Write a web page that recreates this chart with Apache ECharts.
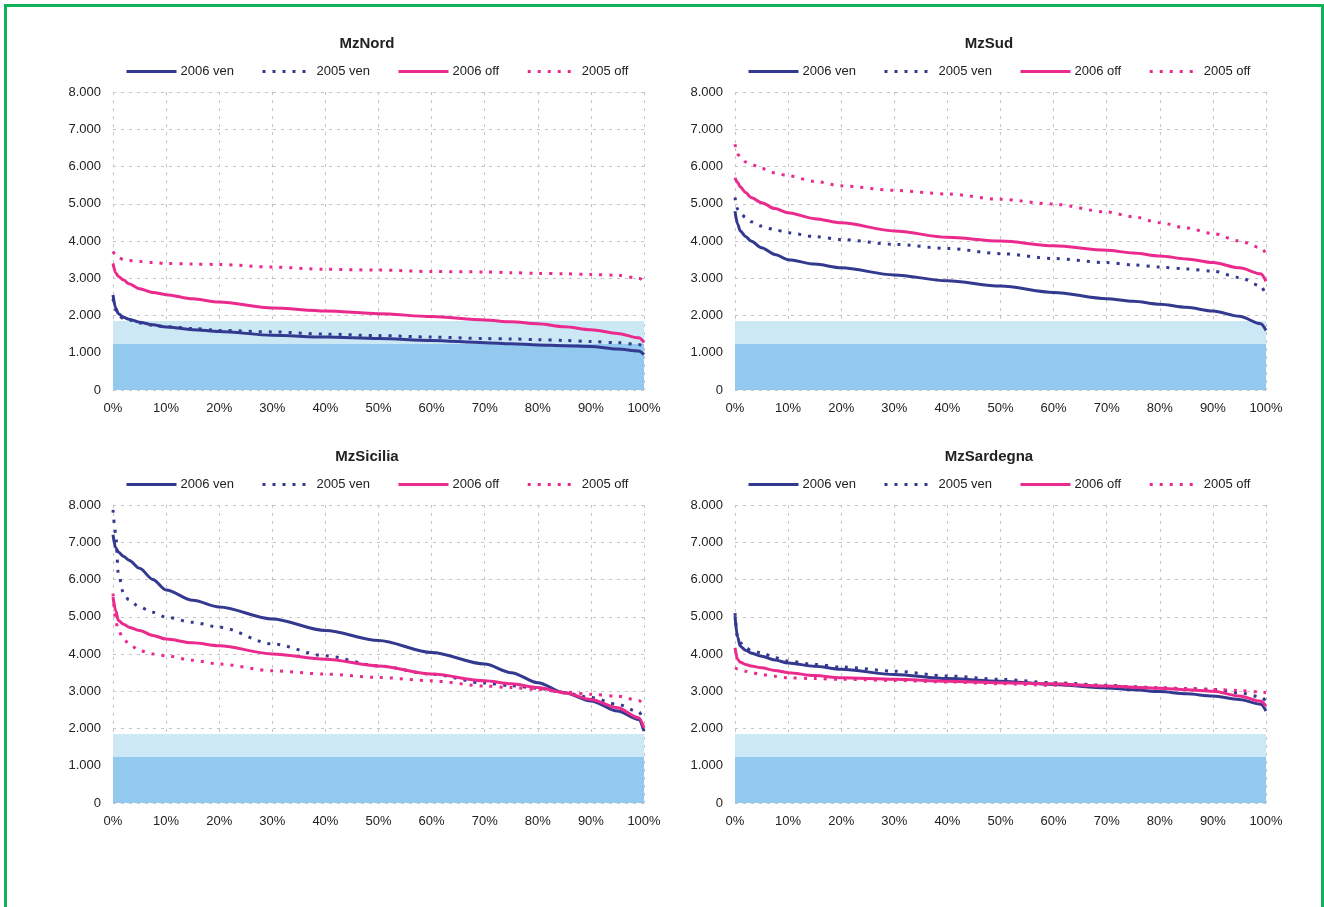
<!DOCTYPE html>
<html>
<head>
<meta charset="utf-8">
<script src="https://cdn.jsdelivr.net/npm/echarts@6/dist/echarts.min.js"></script>
<style>
  body { margin: 0; background: #fff; }
  #frame { position: absolute; left: 4px; top: 4px; width: 1314px; height: 960px; border: 3px solid #0fb159; }
  #main { position: absolute; left: 0; top: 0; width: 1324px; height: 907px; }
</style>
</head>
<body>
<div id="frame"></div>
<div id="main"></div>
<script>
// percent of hours (x axis)
const pct = [0, 0.5, 1, 2, 3, 5, 7.5, 10, 15, 20, 30, 40, 50, 60, 70, 75, 80, 85, 90, 95, 99, 100]
const seriesNames = ['2006 ven', '2005 ven', '2006 off', '2005 off']
const panelNames = ['MzNord', 'MzSud', 'MzSicilia', 'MzSardegna']

// values (thousands)
const nordVen06 = [2.55, 2.2, 2.05, 1.95, 1.9, 1.82, 1.75, 1.69, 1.62, 1.57, 1.47, 1.42, 1.38, 1.33, 1.27, 1.24, 1.21, 1.19, 1.17, 1.1, 1.05, 0.95]
const nordVen05 = [2.45, 2.15, 2.0, 1.92, 1.88, 1.8, 1.74, 1.7, 1.65, 1.6, 1.56, 1.5, 1.46, 1.42, 1.38, 1.37, 1.35, 1.33, 1.3, 1.27, 1.22, 1.18]
const nordOff06 = [3.4, 3.15, 3.05, 2.95, 2.85, 2.72, 2.62, 2.56, 2.45, 2.36, 2.2, 2.12, 2.05, 1.97, 1.88, 1.83, 1.78, 1.7, 1.62, 1.52, 1.4, 1.28]
const nordOff05 = [3.72, 3.62, 3.55, 3.5, 3.48, 3.45, 3.42, 3.4, 3.38, 3.37, 3.3, 3.24, 3.22, 3.18, 3.17, 3.15, 3.13, 3.12, 3.1, 3.08, 3.0, 2.92]

const sudVen06 = [4.8, 4.45, 4.27, 4.12, 4.0, 3.82, 3.64, 3.5, 3.38, 3.28, 3.09, 2.93, 2.79, 2.62, 2.45, 2.38, 2.3, 2.22, 2.12, 1.98, 1.78, 1.6]
const sudVen05 = [5.17, 4.85, 4.75, 4.63, 4.52, 4.4, 4.3, 4.22, 4.12, 4.04, 3.91, 3.8, 3.66, 3.53, 3.42, 3.36, 3.3, 3.25, 3.19, 3.02, 2.8, 2.52]
const sudOff06 = [5.7, 5.57, 5.45, 5.3, 5.17, 5.03, 4.87, 4.76, 4.6, 4.49, 4.27, 4.1, 4.0, 3.87, 3.75, 3.68, 3.6, 3.52, 3.42, 3.28, 3.12, 2.92]
const sudOff05 = [6.6, 6.33, 6.25, 6.12, 6.06, 5.95, 5.83, 5.75, 5.6, 5.48, 5.36, 5.26, 5.12, 4.99, 4.78, 4.65, 4.49, 4.35, 4.2, 4.0, 3.82, 3.66]

const sicVen06 = [7.2, 6.85, 6.74, 6.62, 6.52, 6.3, 6.0, 5.72, 5.44, 5.26, 4.94, 4.63, 4.36, 4.04, 3.73, 3.5, 3.23, 2.96, 2.74, 2.47, 2.24, 1.93]
const sicVen05 = [7.87, 7.24, 6.16, 5.62, 5.45, 5.26, 5.12, 4.99, 4.85, 4.72, 4.27, 3.95, 3.68, 3.46, 3.22, 3.15, 3.08, 2.96, 2.83, 2.65, 2.45, 2.2]
const sicOff06 = [5.53, 5.17, 4.9, 4.8, 4.72, 4.63, 4.5, 4.4, 4.3, 4.22, 4.0, 3.86, 3.68, 3.46, 3.28, 3.2, 3.1, 2.96, 2.78, 2.56, 2.29, 2.02]
const sicOff05 = [5.62, 4.9, 4.63, 4.4, 4.27, 4.09, 4.0, 3.95, 3.83, 3.73, 3.55, 3.46, 3.37, 3.28, 3.14, 3.1, 3.05, 2.98, 2.92, 2.87, 2.75, 2.65]

const sarVen06 = [5.02, 4.44, 4.21, 4.1, 4.03, 3.94, 3.84, 3.76, 3.67, 3.59, 3.45, 3.34, 3.27, 3.18, 3.09, 3.04, 2.99, 2.93, 2.87, 2.78, 2.65, 2.47]
const sarVen05 = [5.1, 4.44, 4.3, 4.17, 4.1, 4.03, 3.9, 3.81, 3.72, 3.65, 3.54, 3.41, 3.32, 3.23, 3.16, 3.12, 3.09, 3.07, 3.05, 2.96, 2.85, 2.73]
const sarOff06 = [4.17, 3.85, 3.78, 3.72, 3.68, 3.63, 3.56, 3.5, 3.42, 3.36, 3.32, 3.27, 3.23, 3.2, 3.14, 3.11, 3.08, 3.04, 3.0, 2.87, 2.73, 2.6]
const sarOff05 = [3.63, 3.6, 3.57, 3.54, 3.5, 3.45, 3.4, 3.36, 3.34, 3.32, 3.29, 3.25, 3.2, 3.16, 3.14, 3.11, 3.09, 3.07, 3.05, 3.02, 2.98, 2.96]

// background bands
const bandLow = 1235
const bandHigh = 1850

const panelData = [
  [nordVen06, nordVen05, nordOff06, nordOff05],
  [sudVen06, sudVen05, sudOff06, sudOff05],
  [sicVen06, sicVen05, sicOff06, sicOff05],
  [sarVen06, sarVen05, sarOff06, sarOff05]
]

const NAVY = '#33398f'
const PINK = '#eb2a8d'
const styles = [
  { color: NAVY, type: 'solid' },
  { color: NAVY, type: [3, 7] },
  { color: PINK, type: 'solid' },
  { color: PINK, type: [3, 7] }
]

// grid boxes: left, top
const boxes = [[113, 92], [735, 92], [113, 505], [735, 505]]
const gridW = 531
const gridH = 298

function fmtNum(v) {
  return String(v).replace(/\B(?=(\d{3})+(?!\d))/g, '.')
}

var chartDom = document.getElementById('main')
var myChart = echarts.init(chartDom)

const font = 'Liberation Sans, Arial, sans-serif'
const grid = [], xAxis = [], yAxis = [], title = [], legend = [], series = []

panelNames.forEach((name, p) => {
  const [left, top] = boxes[p]
  grid.push({ left: left, top: top, width: gridW, height: gridH })
  title.push({
    text: name, left: left + 249, top: top - 61, textAlign: 'center',
    textStyle: { fontSize: 15, fontWeight: 'bold', color: '#222', fontFamily: font }
  })
  legend.push({
    data: seriesNames.map(n => name + '|' + n),
    formatter: n => n.split('|')[1],
    left: left + 7, top: top - 32,
    itemWidth: 50, itemHeight: 10, itemGap: 27,
    itemStyle: { opacity: 0 },
    lineStyle: { width: 3 },
    textStyle: { fontSize: 13, color: '#222', fontFamily: font, padding: [0, 0, 0, -1] }
  })
  xAxis.push({
    type: 'value', gridIndex: p, min: 0, max: 100, interval: 10,
    axisLine: { show: false }, axisTick: { show: false },
    axisLabel: { formatter: '{value}%', fontSize: 13, color: '#222', fontFamily: font, margin: 12 },
    splitLine: { show: true, lineStyle: { color: '#c4c4c4', type: [3, 5] } }
  })
  yAxis.push({
    type: 'value', gridIndex: p, min: 0, max: 8000, interval: 1000,
    axisLine: { show: false }, axisTick: { show: false },
    axisLabel: { formatter: fmtNum, fontSize: 13, color: '#222', fontFamily: font, margin: 12 },
    splitLine: { show: true, lineStyle: { color: '#c4c4c4', type: [3, 5] } }
  })
  // bands
  series.push({
    type: 'line', xAxisIndex: p, yAxisIndex: p, data: [], silent: true,
    markArea: {
      silent: true,
      data: [
        [{ yAxis: 0, xAxis: 0, itemStyle: { color: '#93c9ee', opacity: 1 } }, { yAxis: bandLow, xAxis: 100 }],
        [{ yAxis: bandLow, xAxis: 0, itemStyle: { color: '#cbe8f4', opacity: 1 } }, { yAxis: bandHigh, xAxis: 100 }]
      ]
    }
  })
  seriesNames.forEach((s, i) => {
    series.push({
      name: name + '|' + s,
      type: 'line', xAxisIndex: p, yAxisIndex: p,
      symbol: 'none', smooth: 0.3, smoothMonotone: 'x',
      itemStyle: { color: styles[i].color },
      lineStyle: { color: styles[i].color, width: 3, type: styles[i].type },
      data: pct.map((x, k) => [x, Math.round(panelData[p][i][k] * 1000)]),
      z: 3
    })
  })
})

const option = {
  animation: false,
  backgroundColor: 'transparent',
  title: title,
  legend: legend,
  grid: grid,
  xAxis: xAxis,
  yAxis: yAxis,
  series: series
}
option && myChart.setOption(option)
</script>
</body>
</html>
